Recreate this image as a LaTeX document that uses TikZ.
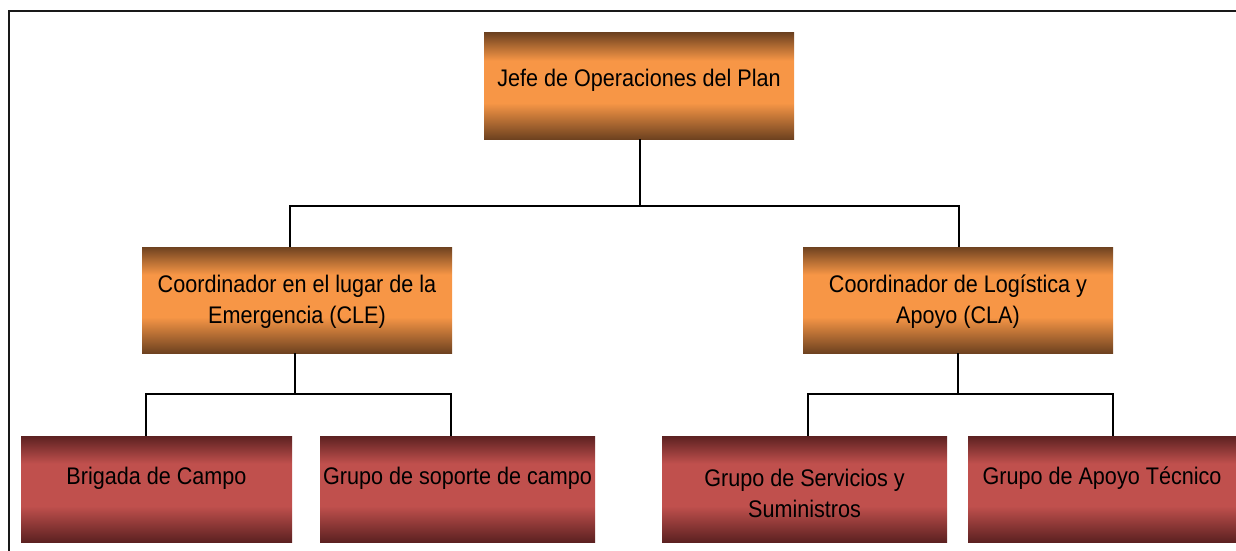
\documentclass[tikz,border=0pt]{standalone}
\usepackage{fontspec}
\setmainfont{Liberation Sans}[FakeStretch=0.9]
\definecolor{orgmid}{HTML}{F79646}
\definecolor{orgdark}{HTML}{6E4220}
\definecolor{redmid}{HTML}{C0504D}
\definecolor{reddark}{HTML}{5C2121}
\pgfdeclareverticalshading{orgshade}{100bp}{color(0bp)=(orgdark); color(25bp)=(orgdark); color(42bp)=(orgmid); color(62bp)=(orgmid); color(75bp)=(orgdark); color(100bp)=(orgdark)}
\pgfdeclareverticalshading{redshade}{100bp}{color(0bp)=(reddark); color(25bp)=(reddark); color(42bp)=(redmid); color(62bp)=(redmid); color(75bp)=(reddark); color(100bp)=(reddark)}
\begin{document}
\begin{tikzpicture}[x=1pt,y=-1pt,
  orgbox/.style={draw=none, inner sep=0pt, shading=orgshade},
  redbox/.style={draw=none, inner sep=0pt, shading=redshade},
  txt/.style={font=\fontsize{24}{31}\selectfont, align=center, inner sep=0pt, text=black},
  conn/.style={draw=black, line width=1.5pt},
  frame/.style={draw=black!90, line width=2pt}]
\useasboundingbox (0,0) rectangle (1236,551);
\draw[frame] (9,551) -- (9,11) -- (1237,11);

\node[orgbox, minimum width=310pt, minimum height=106pt,
  label={[txt, yshift=6pt]center:Jefe de Operaciones del Plan}] (top) at (639,86) {};
\node[orgbox, minimum width=310pt, minimum height=106pt,
  label={[txt, yshift=-2pt]center:Coordinador en el lugar de la\\Emergencia (CLE)}] (cle) at (297,300) {};
\node[orgbox, minimum width=310pt, minimum height=106pt,
  label={[txt, yshift=-2pt]center:Coordinador de Logística y\\Apoyo (CLA)}] (cla) at (958,300) {};

\node[redbox, minimum width=271pt, minimum height=106pt,
  label={[txt, yshift=11pt]center:Brigada de Campo}] (b1) at (156.5,489) {};
\node[redbox, minimum width=275pt, minimum height=106pt,
  label={[txt, yshift=11pt]center:Grupo de soporte de campo}] (b2) at (457.5,489) {};
\node[redbox, minimum width=285pt, minimum height=106pt,
  label={[txt, yshift=-4pt]center:Grupo de Servicios y\\Suministros}] (b3) at (804.5,489) {};
\node[redbox, minimum width=268pt, minimum height=106pt,
  label={[txt, yshift=11pt]center:Grupo de Apoyo Técnico}] (b4) at (1102,489) {};

\coordinate (j0) at (640,206);
\coordinate (j1) at (295,394);
\coordinate (j2) at (958,394);
\draw[conn] (top.south -| j0) -- (j0);
\draw[conn] (j0) -| ([xshift=-7pt]cle.north);
\draw[conn] (j0) -| ([xshift=1pt]cla.north);
\draw[conn] (cle.south -| j1) -- (j1);
\draw[conn] (j1) -| ([xshift=-10.5pt]b1.north);
\draw[conn] (j1) -| ([xshift=-6.5pt]b2.north);
\draw[conn] (cla.south -| j2) -- (j2);
\draw[conn] (j2) -| ([xshift=3.5pt]b3.north);
\draw[conn] (j2) -| ([xshift=11pt]b4.north);
\end{tikzpicture}
\end{document}
